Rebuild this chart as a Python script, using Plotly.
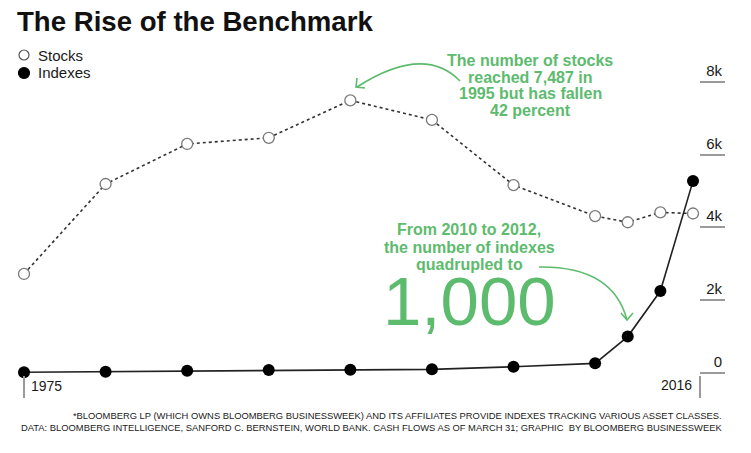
import plotly.graph_objects as go

# ---------------- data ----------------
years = [1975, 1980, 1985, 1990, 1995, 2000, 2005, 2010, 2012, 2014, 2016]
stocks = [2720, 5190, 6290, 6460, 7487, 6950, 5160, 4310, 4140, 4410, 4380]
indexes = [20, 35, 60, 80, 90, 100, 170, 265, 1000, 2250, 5270]
y_tick_vals = [0, 2000, 4000, 6000, 8000]
y_tick_text = ["0", "2k", "4k", "6k", "8k"]

GREEN = "#5dbb6e"
DARK = "#1a1a1a"
GRAY = "#9a9a9a"

W, H = 751, 453
ML, MR, MT, MB = 4, 26, 60, 78          # plot area: x 4..725, y 60..375
PX_1975, PX_2016 = 24, 693
PPY = (PX_2016 - PX_1975) / (2016 - 1975)
x_range = [1975 - (PX_1975 - ML) / PPY, 2016 + (W - MR - PX_2016) / PPY]
PY_0, PY_8K = 373, 81.7
PPV = (PY_0 - PY_8K) / 8000
y_range = [-(H - MB - PY_0) / PPV, (PY_0 - MT) / PPV]


def dx(px):  # pixel -> data x
    return x_range[0] + (px - ML) / PPY


def dy(py):  # pixel -> data y
    return (PY_0 - py) / PPV


def pxp(px):  # pixel -> paper x
    return (px - ML) / (W - ML - MR)


def pyp(py):  # pixel -> paper y
    return (H - MB - py) / (H - MT - MB)


fig = go.Figure()

fig.add_trace(go.Scatter(
    x=years, y=stocks, name="Stocks", mode="lines+markers",
    line=dict(color="#333333", width=1.6, dash="dot"),
    marker=dict(size=11, color="white", line=dict(color="#7a7a7a", width=1.3)),
    cliponaxis=False, showlegend=False,
))
fig.add_trace(go.Scatter(
    x=years, y=indexes, name="Indexes", mode="lines+markers",
    line=dict(color="#222222", width=1.6),
    marker=dict(size=12, color="black"),
    cliponaxis=False, showlegend=False,
))

# ---------------- curved arrows ----------------
def qpath(p0, c, p1):
    return (f"M {dx(p0[0])},{dy(p0[1])} Q {dx(c[0])},{dy(c[1])} "
            f"{dx(p1[0])},{dy(p1[1])}")


def head(w1, tip, w2):
    return (f"M {dx(w1[0])},{dy(w1[1])} L {dx(tip[0])},{dy(tip[1])} "
            f"L {dx(w2[0])},{dy(w2[1])}")


shapes = []
for p in [qpath((460, 81), (424, 44), (357, 87)),
          head((357, 78), (356, 87), (365, 88)),
          qpath((539, 267), (613, 266), (627, 320)),
          head((621, 313), (627, 320), (633, 313))]:
    shapes.append(dict(type="path", path=p, xref="x", yref="y",
                       line=dict(color=GREEN, width=1.6)))

# ---------------- manual legend ----------------
def circle(cx, cy, r, fill, edge):
    return dict(type="circle", xref="paper", yref="paper",
                x0=pxp(cx - r), x1=pxp(cx + r), y0=pyp(cy + r), y1=pyp(cy - r),
                fillcolor=fill, line=dict(color=edge, width=1.2))


shapes.append(circle(24, 55, 5, "white", "#555555"))
shapes.append(circle(24, 73, 5.5, "black", "black"))

annotations = []
for txt, y in zip(["Stocks", "Indexes"], [55, 73]):
    annotations.append(dict(text=txt, x=pxp(36), y=pyp(y), xref="paper",
                            yref="paper", xanchor="left", yanchor="middle",
                            showarrow=False, font=dict(size=15, color=DARK)))

# stocks note
for txt, y in zip(["The number of stocks", "reached 7,487 in",
                   "1995 but has fallen", "42 percent"],
                  [60, 77, 94, 110.5]):
    annotations.append(dict(text=f"<b>{txt}</b>", x=pxp(530), y=pyp(y),
                            xref="paper", yref="paper", xanchor="center",
                            yanchor="middle", showarrow=False,
                            font=dict(size=16, color=GREEN)))
# indexes note
for txt, y in zip(["From 2010 to 2012,", "the number of indexes",
                   "quadrupled to"], [229.5, 247, 264.5]):
    annotations.append(dict(text=f"<b>{txt}</b>", x=pxp(469), y=pyp(y),
                            xref="paper", yref="paper", xanchor="center",
                            yanchor="middle", showarrow=False,
                            font=dict(size=16, color=GREEN)))
annotations.append(dict(text="1,000", x=pxp(469), y=pyp(301),
                        xref="paper", yref="paper", xanchor="center",
                        yanchor="middle", showarrow=False,
                        font=dict(size=69, color=GREEN)))
# x labels
annotations.append(dict(text="1975", x=pxp(29), y=pyp(386), xref="paper",
                        yref="paper", xanchor="left", yanchor="middle",
                        showarrow=False, font=dict(size=14, color=DARK)))
annotations.append(dict(text="2016", x=pxp(694), y=pyp(385), xref="paper",
                        yref="paper", xanchor="right", yanchor="middle",
                        showarrow=False, font=dict(size=14, color=DARK)))
# footnote
annotations.append(dict(
    text="*BLOOMBERG LP (WHICH OWNS BLOOMBERG BUSINESSWEEK) AND ITS AFFILIATES "
         "PROVIDE INDEXES TRACKING VARIOUS ASSET CLASSES.<br>"
         "DATA: BLOOMBERG INTELLIGENCE, SANFORD C. BERNSTEIN, WORLD BANK. CASH "
         "FLOWS AS OF MARCH 31; GRAPHIC  BY BLOOMBERG BUSINESSWEEK",
    x=pxp(724), y=pyp(421), xref="paper", yref="paper", xanchor="right",
    yanchor="middle", align="right", showarrow=False,
    font=dict(size=9.4, color=DARK, family="Liberation Sans Narrow, Liberation Sans, Arial, sans-serif")))

fig.update_layout(
    width=W, height=H,
    margin=dict(l=ML, r=MR, t=MT, b=MB),
    paper_bgcolor="white", plot_bgcolor="white",
    font=dict(family="Liberation Sans, Arial, sans-serif", color=DARK),
    showlegend=False,
    title=dict(text="<b>The Rise of the Benchmark</b>", x=17 / W, xanchor="left",
               xref="container", y=1 - 21 / H, yanchor="middle", yref="container",
               font=dict(size=27.6, color="#111111")),
    xaxis=dict(range=x_range, showgrid=False, zeroline=False, showline=False,
               tickmode="array", tickvals=[1975, dx(700)], ticktext=["", ""],
               ticks="outside", ticklen=22, tickwidth=1.5, tickcolor=GRAY,
               fixedrange=True),
    yaxis=dict(range=y_range, side="right", showgrid=False, zeroline=False,
               showline=False, tickmode="array", tickvals=y_tick_vals,
               ticktext=y_tick_text, ticks="inside", ticklen=25, tickwidth=1.5,
               tickcolor=GRAY, ticklabelposition="inside top",
               tickfont=dict(size=15, color=DARK), fixedrange=True),
    shapes=shapes,
    annotations=annotations,
)

fig.write_html("out.html",
               config={"displayModeBar": False},
               post_script="document.body.style.margin='0';"
                           "document.body.style.overflow='hidden';")
